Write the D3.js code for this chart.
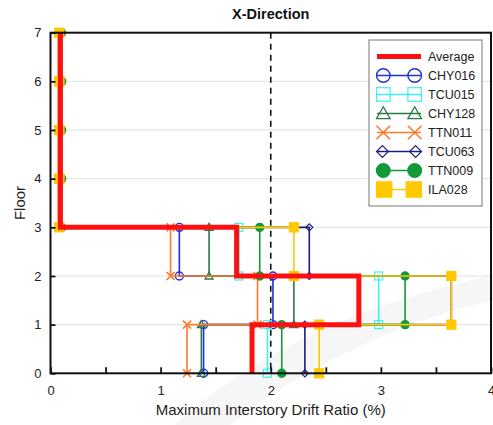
<!DOCTYPE html>
<html>
<head>
<meta charset="utf-8">
<script src="https://cdn.jsdelivr.net/npm/d3@7"></script>
<style>
  body { margin: 0; background: #fff; font-family: Arial, "Liberation Sans", sans-serif; }
</style>
</head>
<body>
<div id="vis"></div>
<script>
// drift ratio (%) per story, story 1 (floor 0-1) up to story 7 (floor 6-7)
const stories = [1, 2, 3, 4, 5, 6, 7]
const average = [1.83, 2.80, 1.69, 0.09, 0.09, 0.09, 0.09]
const chy016 = [1.39, 2.02, 1.17, 0.08, 0.08, 0.08, 0.08]
const tcu015 = [1.97, 2.98, 1.71, 0.08, 0.08, 0.08, 0.08]
const chy128 = [1.37, 2.21, 1.44, 0.09, 0.09, 0.09, 0.09]
const ttn011 = [1.24, 1.88, 1.09, 0.07, 0.07, 0.07, 0.07]
const tcu063 = [2.31, 3.64, 2.35, 0.08, 0.08, 0.08, 0.08]
const ttn009 = [2.10, 3.22, 1.90, 0.10, 0.10, 0.10, 0.10]
const ila028 = [2.44, 3.64, 2.21, 0.08, 0.08, 0.08, 0.08]

const seriesNames = ['CHY016', 'TCU015', 'CHY128', 'TTN011', 'TCU063', 'TTN009', 'ILA028']
const seriesValues = [chy016, tcu015, chy128, ttn011, tcu063, ttn009, ila028]
const seriesColors = ['#1f2fe0', '#3ff0f0', '#2a7a45', '#ff7a2a', '#1c1c80', '#129a3a', '#ffc800']
const seriesMarkers = ['circle', 'square', 'triangle', 'x', 'diamond', 'dot', 'box']

const xTicks = [0, 0.5, 1, 1.5, 2, 2.5, 3, 3.5, 4]
const yTicks = [0, 1, 2, 3, 4, 5, 6, 7]

const W = 493, H = 425

const svg = d3.select('#vis')
    .append('svg')
    .attr('width', W)
    .attr('height', H)

const xScale = d3.scaleLinear().domain([0, 4]).range([50.5, 491])
const yScale = d3.scaleLinear().domain([0, 7]).range([373.3, 32.7])

// faint swoosh in the background of the source image
svg.append('path')
    .attr('d', 'M175,425 C270,340 380,300 493,275 L493,300 C390,325 300,370 230,425 Z')
    .style('fill', '#f6f6f6')

// grid lines
svg.append('g')
    .selectAll('line')
    .data(yTicks.filter(d => d > 0 && d < 7))
    .join('line')
    .attr('x1', xScale(0)).attr('x2', xScale(4))
    .attr('y1', d => yScale(d)).attr('y2', d => yScale(d))
    .style('stroke', '#e2e2e2')
    .style('stroke-width', 1)

// dashed 2% line
svg.append('line')
    .attr('x1', xScale(2)).attr('x2', xScale(2))
    .attr('y1', yScale(7)).attr('y2', yScale(0))
    .style('stroke', '#111')
    .style('stroke-width', 1.6)
    .style('stroke-dasharray', '6,5')

// stair points: (d1,0),(d1,1),(d2,1),(d2,2)...
function stairs(vals) {
    let pts = []
    stories.forEach((s, i) => {
        pts.push([vals[i], s - 1])
        pts.push([vals[i], s])
    })
    return pts
}

const line = d3.line().x(d => xScale(d[0])).y(d => yScale(d[1]))

function drawMarker(g, type, cx, cy, s, color) {
    const h = s / 2
    if (type === 'circle' || type === 'dot') {
        g.append('circle').attr('cx', cx).attr('cy', cy).attr('r', h)
            .style('fill', type === 'dot' ? color : 'none')
            .style('stroke', color).style('stroke-width', 1.4)
    } else if (type === 'square' || type === 'box') {
        g.append('rect').attr('x', cx - h).attr('y', cy - h).attr('width', s).attr('height', s)
            .style('fill', type === 'box' ? color : 'none')
            .style('stroke', color).style('stroke-width', 1.2)
    } else if (type === 'triangle') {
        g.append('path')
            .attr('d', `M${cx},${cy - h}L${cx + h},${cy + h * 0.75}L${cx - h},${cy + h * 0.75}Z`)
            .style('fill', 'none').style('stroke', color).style('stroke-width', 1.3)
    } else if (type === 'x') {
        g.append('path')
            .attr('d', `M${cx - h},${cy - h}L${cx + h},${cy + h}M${cx - h},${cy + h}L${cx + h},${cy - h}`)
            .style('stroke', color).style('stroke-width', 1.6)
    } else if (type === 'diamond') {
        g.append('path')
            .attr('d', `M${cx},${cy - h}L${cx + h},${cy}L${cx},${cy + h}L${cx - h},${cy}Z`)
            .style('fill', 'none').style('stroke', color).style('stroke-width', 1.2)
    }
}

const markerSize = { circle: 8, dot: 8, square: 8, box: 9, triangle: 8, x: 8, diamond: 7 }

// series
seriesNames.forEach((name, k) => {
    const pts = stairs(seriesValues[k])
    const g = svg.append('g').attr('class', 'series')
    g.append('path')
        .attr('d', line(pts))
        .style('fill', 'none')
        .style('stroke', seriesColors[k])
        .style('stroke-width', 1.6)
    pts.forEach(p => drawMarker(g, seriesMarkers[k], xScale(p[0]), yScale(p[1]),
        markerSize[seriesMarkers[k]], seriesColors[k]))
})

// average on top
svg.append('path')
    .attr('d', line(stairs(average)))
    .style('fill', 'none')
    .style('stroke', '#ff1010')
    .style('stroke-width', 5)

// axes
const xAxis = d3.axisBottom(xScale)
    .tickValues(xTicks)
    .tickSize(-6)
    .tickSizeOuter(0)
    .tickPadding(12)
    .tickFormat(d => Number.isInteger(d) ? d : '')

svg.append('g')
    .attr('transform', `translate(0,${yScale(0)})`)
    .call(xAxis)
    .call(g => g.select('.domain').remove())
    .call(g => g.selectAll('line').style('stroke', '#111').style('stroke-width', 1.8))
    .call(g => g.selectAll('text').style('font-size', '13px').style('fill', '#222')
        .style('font-family', 'Arial, "Liberation Sans", sans-serif'))

const yAxis = d3.axisLeft(yScale)
    .tickValues(yTicks)
    .tickSize(-5)
    .tickSizeOuter(0)
    .tickPadding(9)
    .tickFormat(d3.format('d'))

svg.append('g')
    .attr('transform', `translate(${xScale(0)},0)`)
    .call(yAxis)
    .call(g => g.select('.domain').remove())
    .call(g => g.selectAll('line').style('stroke', '#111').style('stroke-width', 1.8))
    .call(g => g.selectAll('text').style('font-size', '13px').style('fill', '#222')
        .style('font-family', 'Arial, "Liberation Sans", sans-serif'))

// frame
svg.append('rect')
    .attr('x', xScale(0)).attr('y', yScale(7))
    .attr('width', xScale(4) - xScale(0))
    .attr('height', yScale(0) - yScale(7))
    .style('fill', 'none')
    .style('stroke', '#111')
    .style('stroke-width', 2)

// labels
svg.append('text')
    .attr('x', (xScale(0) + xScale(4)) / 2)
    .attr('y', 19)
    .style('text-anchor', 'middle')
    .style('font-weight', 'bold')
    .style('font-size', '14.5px')
    .style('fill', '#111')
    .text('X-Direction')

svg.append('text')
    .attr('x', (xScale(0) + xScale(4)) / 2)
    .attr('y', 415)
    .style('text-anchor', 'middle')
    .style('font-size', '15px')
    .style('fill', '#222')
    .text('Maximum Interstory Drift Ratio (%)')

svg.append('text')
    .attr('transform', 'rotate(-90)')
    .attr('x', -(yScale(0) + yScale(7)) / 2)
    .attr('y', 25)
    .style('text-anchor', 'middle')
    .style('font-size', '15px')
    .style('fill', '#222')
    .text('Floor')

// legend
const legend = svg.append('g').attr('transform', 'translate(369,40)')
legend.append('rect')
    .attr('width', 113).attr('height', 166)
    .style('fill', '#fff')
    .style('stroke', '#777')
    .style('stroke-width', 1)

const legendNames = ['Average'].concat(seriesNames)
legendNames.forEach((name, i) => {
    const yy = 16.5 + i * 19
    const g = legend.append('g')
    if (i === 0) {
        g.append('line').attr('x1', 8).attr('x2', 52).attr('y1', yy).attr('y2', yy)
            .style('stroke', '#ff1010').style('stroke-width', 5)
    } else {
        const k = i - 1
        g.append('line').attr('x1', 8).attr('x2', 52).attr('y1', yy).attr('y2', yy)
            .style('stroke', seriesColors[k]).style('stroke-width', 1.6)
        const s = markerSize[seriesMarkers[k]] * 1.7
        drawMarker(g, seriesMarkers[k], 8 + s / 2 - 0.5, yy, s, seriesColors[k])
        drawMarker(g, seriesMarkers[k], 52 - s / 2 + 0.5, yy, s, seriesColors[k])
    }
    g.append('text')
        .attr('x', 59)
        .attr('y', yy + 4.5)
        .style('font-size', '12.5px')
        .style('fill', '#222')
        .text(name)
})
</script>
</body>
</html>
